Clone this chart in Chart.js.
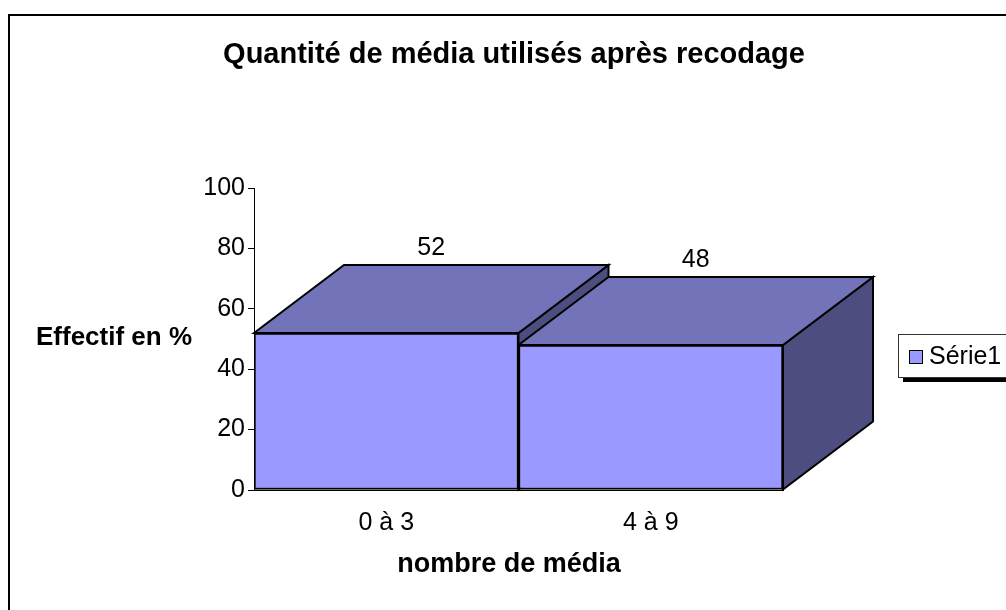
<!DOCTYPE html>
<html lang="fr">
<head>
<meta charset="UTF-8">
<title>Quantité de média utilisés après recodage</title>
<script src="https://cdn.jsdelivr.net/npm/chart.js"></script>
<style>
  html, body { margin: 0; padding: 0; background: #fff; }
  .wrap { width: 1006px; height: 610px; }
</style>
</head>
<body>
<div class="wrap"><canvas id="chart"></canvas></div>
<script>
// data
const categories = ['0 à 3', '4 à 9'];
const seriesName = 'Série1';
const values = [52, 48];
const yTicks = [0, 20, 40, 60, 80, 100];
const chartTitle = 'Quantité de média utilisés après recodage';
const yTitle = 'Effectif en %';
const xTitle = 'nombre de média';

const frontColor = '#9999FF';
const topColor = '#7373BA';
const sideColor = '#4D4D80';
const depthX = 90, depthY = -68;   // fake 3D offset
const FONT = '"Liberation Sans", Arial, sans-serif';

Chart.defaults.font.family = FONT;
Chart.defaults.color = '#000';

function poly(ctx, pts, fill) {
    ctx.beginPath();
    ctx.moveTo(pts[0][0], pts[0][1]);
    for (let i = 1; i < pts.length; i++) ctx.lineTo(pts[i][0], pts[i][1]);
    ctx.closePath();
    ctx.fillStyle = fill;
    ctx.fill();
    ctx.stroke();
}

const box3d = {
    id: 'box3d',
    beforeDraw(chart) {
        const ctx = chart.ctx;
        ctx.save();
        ctx.fillStyle = '#fff';
        ctx.fillRect(0, 0, chart.width, chart.height);
        ctx.restore();
    },
    beforeDatasetsDraw(chart) {
        // top and side faces, the front faces are the real bars drawn afterwards
        const ctx = chart.ctx;
        ctx.save();
        ctx.lineWidth = 2;
        ctx.strokeStyle = '#000';
        chart.getDatasetMeta(0).data.forEach(bar => {
            const p = bar.getProps(['x', 'y', 'base', 'width'], true);
            const l = p.x - p.width / 2, r = p.x + p.width / 2;
            poly(ctx, [[r, p.y], [r + depthX, p.y + depthY], [r + depthX, p.base + depthY], [r, p.base]], sideColor);
            poly(ctx, [[l, p.y], [l + depthX, p.y + depthY], [r + depthX, p.y + depthY], [r, p.y]], topColor);
        });
        ctx.restore();
    },
    afterDatasetsDraw(chart) {
        const ctx = chart.ctx;
        const ds = chart.data.datasets[0];
        ctx.save();
        ctx.font = '25px ' + FONT;
        ctx.fillStyle = '#000';
        ctx.textAlign = 'center';
        ctx.textBaseline = 'middle';
        chart.getDatasetMeta(0).data.forEach((bar, i) => {
            const p = bar.getProps(['x', 'y'], true);
            ctx.fillText(ds.data[i], p.x + depthX / 2, p.y + depthY - 17);
        });
        ctx.restore();
    },
    afterDraw(chart) {
        const ctx = chart.ctx;
        ctx.save();
        ctx.fillStyle = '#000';

        // outer frame
        ctx.lineWidth = 2;
        ctx.strokeStyle = '#000';
        ctx.strokeRect(9, 15, 1010, 610);

        // titles
        ctx.textBaseline = 'middle';
        ctx.textAlign = 'center';
        ctx.font = 'bold 29px ' + FONT;
        ctx.fillText(chartTitle, 514, 55);
        ctx.font = 'bold 27px ' + FONT;
        ctx.fillText(xTitle, 509, 565);
        ctx.textAlign = 'left';
        ctx.font = 'bold 26px ' + FONT;
        ctx.fillText(yTitle, 36, 338);

        // legend with shadow
        const lx = 898, ly = 334, lw = 130, lh = 43;
        ctx.fillRect(lx + 5, ly + 5, lw, lh);
        ctx.fillStyle = '#fff';
        ctx.fillRect(lx, ly, lw, lh);
        ctx.lineWidth = 1;
        ctx.strokeStyle = '#333';
        ctx.strokeRect(lx + 0.5, ly + 0.5, lw, lh);
        ctx.fillStyle = frontColor;
        ctx.fillRect(909.5, 350.5, 13, 13);
        ctx.strokeStyle = '#000';
        ctx.strokeRect(909.5, 350.5, 13, 13);
        ctx.fillStyle = '#000';
        ctx.font = '25px ' + FONT;
        ctx.fillText(chart.data.datasets[0].label, 929, 357);
        ctx.restore();
    }
};

new Chart(document.getElementById('chart'), {
    type: 'bar',
    data: {
        labels: categories,
        datasets: [{
            label: seriesName,
            data: values,
            backgroundColor: frontColor,
            borderColor: '#000',
            borderWidth: 2,
            borderSkipped: false,
            barPercentage: 1,
            categoryPercentage: 1
        }]
    },
    options: {
        responsive: true,
        maintainAspectRatio: false,
        animation: false,
        layout: { padding: { top: 188, right: 223, bottom: 0, left: 0 } },
        plugins: {
            legend: { display: false },
            tooltip: { enabled: false },
            title: { display: false }
        },
        scales: {
            x: {
                grid: { display: false, drawTicks: false },
                border: { display: true, color: '#000', width: 1 },
                ticks: { font: { size: 25 }, padding: 18, color: '#000' },
                afterFit(scale) { scale.height = 120; }
            },
            y: {
                min: yTicks[0],
                max: yTicks[yTicks.length - 1],
                ticks: { stepSize: yTicks[1] - yTicks[0], font: { size: 25 }, padding: 3, color: '#000' },
                grid: { drawOnChartArea: false, drawTicks: true, tickLength: 6, color: '#000', lineWidth: 1 },
                border: { display: true, color: '#000', width: 1 },
                afterFit(scale) { scale.width = 254; }
            }
        }
    },
    plugins: [box3d]
});
</script>
</body>
</html>
